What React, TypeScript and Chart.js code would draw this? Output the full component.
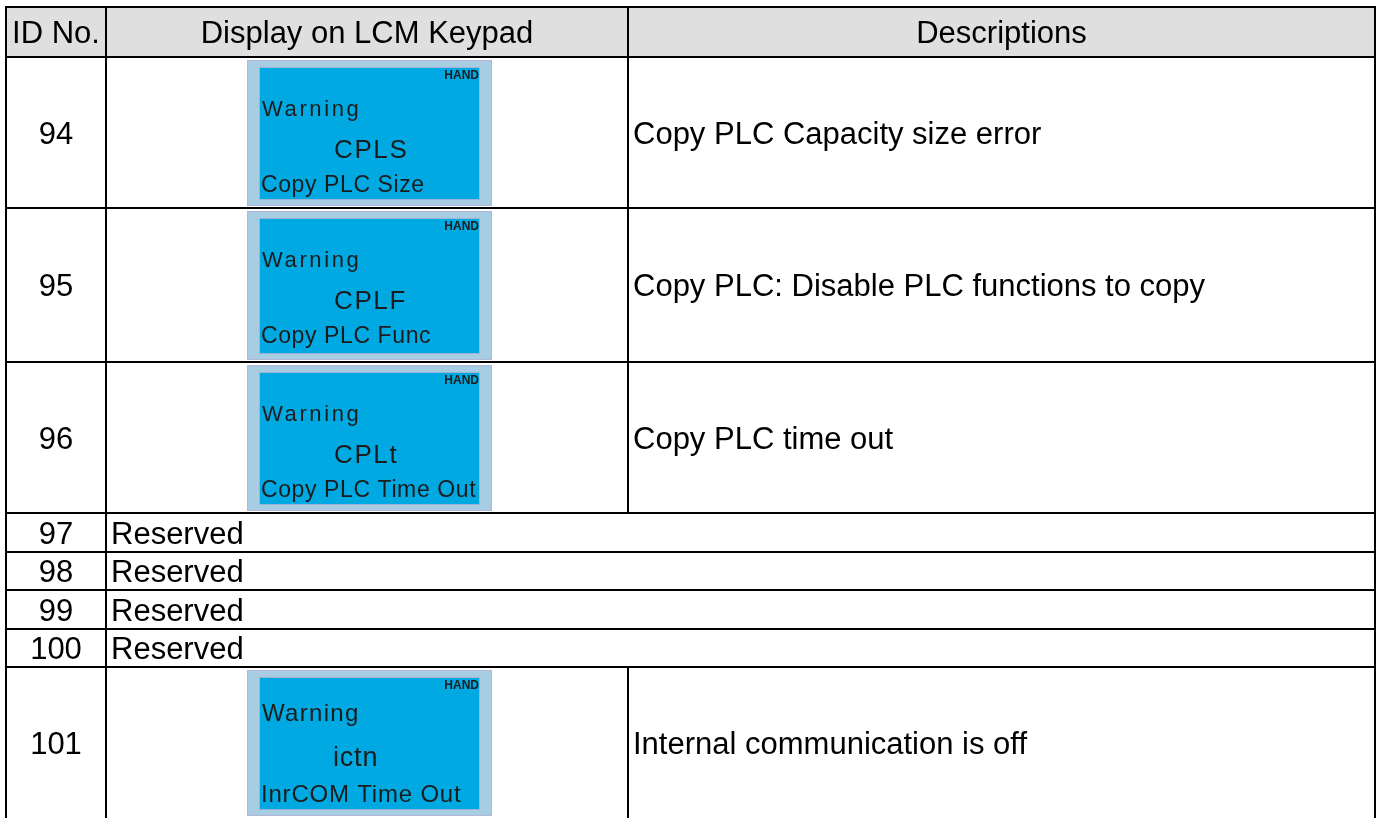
import React, { useEffect, useRef } from 'react';
import { Chart, registerables } from 'chart.js';

Chart.register(...registerables);

// ---- table content ----
const headers = ['ID No.', 'Display on LCM Keypad', 'Descriptions'];
const ids = ['94', '95', '96', '97', '98', '99', '100', '101'];
const descriptions = [
  'Copy PLC Capacity size error',
  'Copy PLC: Disable PLC functions to copy',
  'Copy PLC time out',
  'Reserved',
  'Reserved',
  'Reserved',
  'Reserved',
  'Internal communication is off',
];
const lcdModes = ['HAND', 'HAND', 'HAND', null, null, null, null, 'HAND'];
const lcdTitles = ['Warning', 'Warning', 'Warning', null, null, null, null, 'Warning'];
const lcdCodes = ['CPLS', 'CPLF', 'CPLt', null, null, null, null, 'ictn'];
const lcdMessages = ['Copy PLC Size', 'Copy PLC Func', 'Copy PLC Time Out', null, null, null, null, 'InrCOM Time Out'];

// ---- layout (table units, mapped through the chart scales) ----
const W = 1378;
const H = 818;
const rowEdges = [7, 57, 208, 362, 513, 552, 590, 629, 667, 821];
const colEdges = [6, 106, 628, 1375];
const FONT = '"Liberation Sans", Arial, Helvetica, sans-serif';

export default function App() {
  const ref = useRef<HTMLCanvasElement | null>(null);

  useEffect(() => {
    if (!ref.current) return;

    const tablePlugin = {
      id: 'tableDraw',
      afterDraw(chart: any) {
        const ctx: CanvasRenderingContext2D = chart.ctx;
        const xs = chart.scales.x;
        const ys = chart.scales.y;
        const X = (v: number) => xs.getPixelForValue(v);
        const Y = (v: number) => ys.getPixelForValue(v);

        const rect = (x0: number, y0: number, x1: number, y1: number, color: string) => {
          ctx.fillStyle = color;
          ctx.fillRect(X(x0), Y(y0), X(x1) - X(x0), Y(y1) - Y(y0));
        };
        const text = (
          s: string,
          x: number,
          baseline: number,
          size: number,
          opts: { align?: CanvasTextAlign; bold?: boolean; spacing?: number; color?: string } = {}
        ) => {
          ctx.save();
          ctx.font = `${opts.bold ? 'bold ' : ''}${size}px ${FONT}`;
          ctx.fillStyle = opts.color || '#000';
          ctx.textBaseline = 'alphabetic';
          const sp = opts.spacing || 0;
          (ctx as any).letterSpacing = `${sp}px`;
          let align = opts.align || 'left';
          let px = X(x);
          if (align === 'center' || align === 'right') {
            const w = ctx.measureText(s).width - sp;
            px = align === 'center' ? px - w / 2 : px - w;
          }
          ctx.textAlign = 'left';
          ctx.fillText(s, px, Y(baseline));
          ctx.restore();
        };

        ctx.save();
        // background
        rect(0, 0, W, H, '#ffffff');
        // header background
        rect(colEdges[0], rowEdges[0], colEdges[3], rowEdges[1], '#dfdfdf');

        // header texts
        const capMid = (top: number, bottom: number, size: number) => (top + bottom) / 2 + size * 0.716 / 2;
        headers.forEach((h, i) => {
          text(h, (colEdges[i] + colEdges[i + 1]) / 2, capMid(rowEdges[0], rowEdges[1], 31), 31, { align: 'center' });
        });

        // rows
        ids.forEach((id, r) => {
          const top = rowEdges[r + 1];
          const bottom = rowEdges[r + 2];
          const isLast = r === ids.length - 1;
          const rowBottom = isLast ? top + 151 : bottom;
          const mid = capMid(top, rowBottom, 31);
          text(id, (colEdges[0] + colEdges[1]) / 2, mid, 31, { align: 'center' });

          if (lcdCodes[r] == null) {
            // merged reserved row
            text(descriptions[r], colEdges[1] + 5, mid, 31);
            return;
          }

          text(descriptions[r], colEdges[2] + 5, mid, 31);

          // LCD keypad picture
          const fx0 = 247, fx1 = 492;
          const fy0 = top + 3;
          const fy1 = rowBottom - 2;
          rect(fx0, fy0, fx1, fy1, '#b3b6dc');
          rect(fx0 + 1, fy0 + 1, fx1 - 1, fy1 - 1, '#a8cce2');
          const ix0 = 259, ix1 = 480;
          const iy0 = fy0 + 7;
          const iy1 = fy1 - 6;
          rect(ix0, iy0, ix1, iy1, '#9fb3d6');
          rect(ix0 + 1, iy0 + 1, ix1 - 1, iy1 - 1, '#00a9e2');

          const dark = '#1c1c1c';
          const alt = isLast;
          text(lcdModes[r] as string, ix1 - 1, iy0 + 12, 12, { align: 'right', bold: true, color: dark });
          text(lcdTitles[r] as string, ix0 + 3, iy0 + (alt ? 44 : 49), alt ? 24 : 22, { spacing: alt ? 1.3 : 2.6, color: dark });
          text(lcdCodes[r] as string, ix0 + (alt ? 74 : 75), iy0 + (alt ? 89 : 91), alt ? 27 : 26, { spacing: alt ? 0.8 : 1.6, color: dark });
          text(lcdMessages[r] as string, ix0 + 2, iy0 + 125, alt ? 24 : 23, { spacing: alt ? 0.8 : 0.6, color: dark });
        });

        // grid lines
        const lw = 2;
        const hline = (y: number, x0: number, x1: number) => rect(x0 - 1, y - lw / 2, x1 + 1, y + lw / 2, '#000');
        const vline = (x: number, y0: number, y1: number) => rect(x - lw / 2, y0 - 1, x + lw / 2, y1 + 1, '#000');
        rowEdges.forEach((y) => hline(y, colEdges[0], colEdges[3]));
        vline(colEdges[0], rowEdges[0], H + 5);
        vline(colEdges[1], rowEdges[0], H + 5);
        vline(colEdges[3], rowEdges[0], H + 5);
        // middle separator only where rows are not merged
        vline(colEdges[2], rowEdges[0], rowEdges[1]);
        ids.forEach((_, r) => {
          if (lcdCodes[r] != null) vline(colEdges[2], rowEdges[r + 1], Math.min(rowEdges[r + 2], H + 5));
        });
        ctx.restore();
      },
    };

    const chart = new Chart(ref.current, {
      type: 'scatter',
      data: { datasets: [{ data: [] }] },
      options: {
        animation: false,
        responsive: false,
        events: [],
        layout: { padding: 0 },
        plugins: { legend: { display: false }, tooltip: { enabled: false } },
        scales: {
          x: { type: 'linear', min: 0, max: W, display: false },
          y: { type: 'linear', min: 0, max: H, reverse: true, display: false },
        },
      },
      plugins: [tablePlugin],
    });
    return () => chart.destroy();
  }, []);

  return (
    <div style={{ position: 'fixed', left: 0, top: 0, width: W, height: H, background: '#fff' }}>
      <canvas ref={ref} width={W} height={H} style={{ width: W, height: H, display: 'block' }} />
    </div>
  );
}
